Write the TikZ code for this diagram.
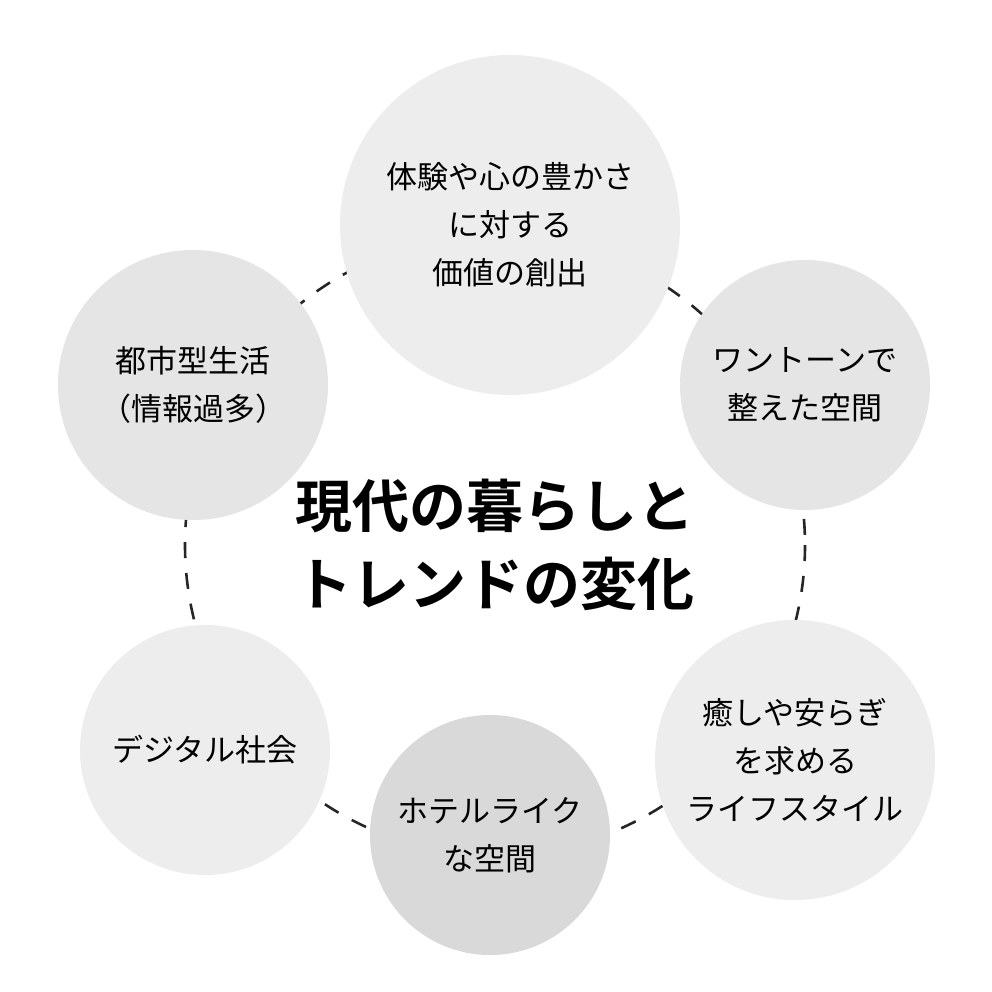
\documentclass[tikz,border=0pt]{standalone}
\usepackage{fontspec}
\newfontfamily\cjk{Noto Sans CJK JP}[BoldFont={Noto Sans CJK JP Bold}]
\usepackage{tikz}
\usetikzlibrary{positioning}

\begin{document}
\begin{tikzpicture}[
  x=1pt, y=-1pt,
  font=\cjk\fontsize{31}{48}\selectfont,
  bubble/.style={circle, draw=none, align=center, inner sep=0pt},
  pale/.style={bubble, fill=black!7},
  mid/.style={bubble, fill=black!10},
  deep/.style={bubble, fill=black!15},
  ring/.style={draw=black!85, line width=2.6pt, dash pattern=on 16pt off 15pt}
]
\useasboundingbox[fill=white] (0,0) rectangle (992,992);

% dashed ring behind the bubbles
\coordinate (hub) at (495,545);
\draw[ring] (hub) circle[radius=310];

% bubbles
\node[pale, minimum size=340] (value) at (510,225) {体験や心の豊かさ\\に対する\\価値の創出};
\node[mid, minimum size=270] (city) at (193,385) {都市型生活\\（情報過多）};
\node[mid, minimum size=250] (tone) at (805,385) {ワントーンで\\整えた空間};
\node[pale, minimum size=280] (heal) at (795,760) {癒しや安らぎ\\を求める\\ライフスタイル};
\node[deep, minimum size=240] (hotel) at (490,835) {ホテルライク\\な空間};
\node[pale, minimum size=250] (digital) at (205,750) {デジタル社会};

% title
\node[align=center, font=\cjk\bfseries\fontsize{57}{78}\selectfont] (title) at (hub) {現代の暮らしと\\トレンドの変化};
\end{tikzpicture}
\end{document}
